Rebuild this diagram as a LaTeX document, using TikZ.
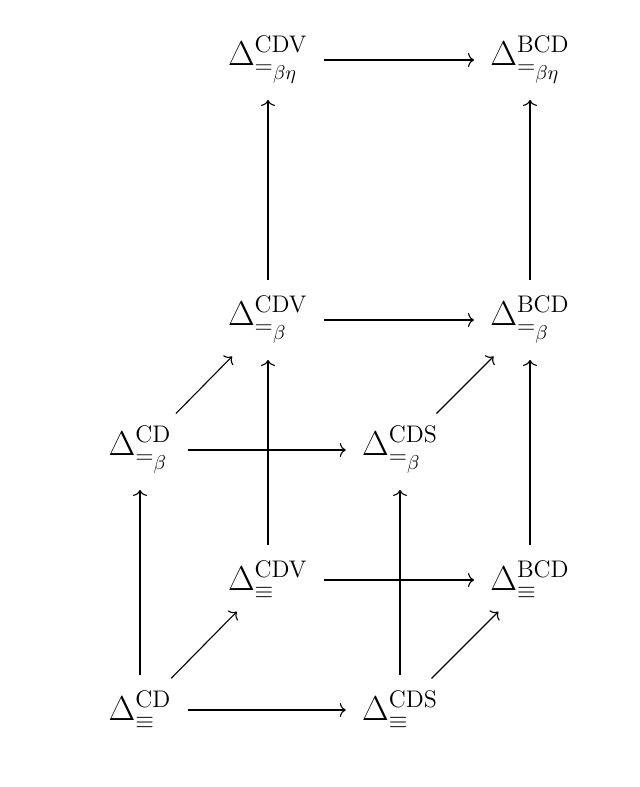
\documentclass[tikz,border=0pt]{standalone}
\usepackage{amsmath}
\usetikzlibrary{arrows.meta}
\begin{document}
\begin{tikzpicture}[x=0.5pt,y=-0.5pt,
  obj/.style={font=\LARGE, inner sep=2pt},
  ar/.style={-{To[length=3pt,width=7pt]}, line width=0.55pt, shorten >=6pt, shorten <=6pt}]
\useasboundingbox (0,0) rectangle (640,787);
\node[obj] (a) at (268,60) {$\Delta^{\mathrm{CDV}}_{=_{\beta\eta}}$};
\node[obj] (b) at (530,60) {$\Delta^{\mathrm{BCD}}_{=_{\beta\eta}}$};
\node[obj] (c) at (268,320) {$\Delta^{\mathrm{CDV}}_{=_{\beta}}$};
\node[obj] (d) at (530,320) {$\Delta^{\mathrm{BCD}}_{=_{\beta}}$};
\node[obj] (e) at (140,450) {$\Delta^{\mathrm{CD}}_{=_{\beta}}$};
\node[obj] (f) at (400,450) {$\Delta^{\mathrm{CDS}}_{=_{\beta}}$};
\node[obj] (g) at (268,580) {$\Delta^{\mathrm{CDV}}_{\equiv}$};
\node[obj] (h) at (530,580) {$\Delta^{\mathrm{BCD}}_{\equiv}$};
\node[obj] (i) at (140,710) {$\Delta^{\mathrm{CD}}_{\equiv}$};
\node[obj] (j) at (400,710) {$\Delta^{\mathrm{CDS}}_{\equiv}$};
\draw[ar] (a) -- (b);
\draw[ar] (c) -- (a);
\draw[ar] (d) -- (b);
\draw[ar] (c) -- (d);
\draw[ar] (e) -- (c);
\draw[ar] (f) -- (d);
\draw[ar] (e) -- (f);
\draw[ar] (g) -- (c);
\draw[ar] (h) -- (d);
\draw[ar] (g) -- (h);
\draw[ar] (i) -- (e);
\draw[ar] (j) -- (f);
\draw[ar] (i) -- (g);
\draw[ar] (j) -- (h);
\draw[ar] (i) -- (j);
\end{tikzpicture}
\end{document}
